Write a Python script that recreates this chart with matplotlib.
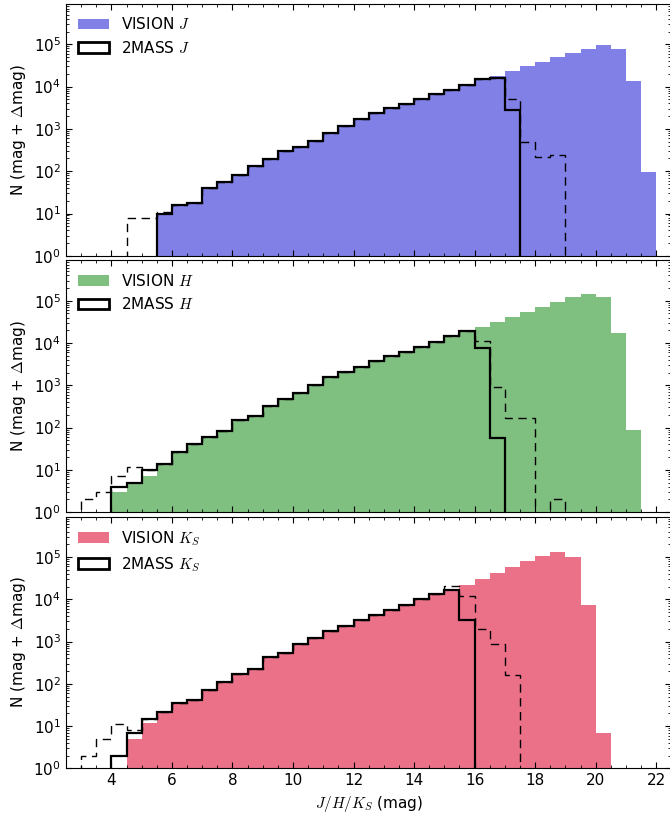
import numpy as np
import matplotlib
matplotlib.use('Agg')
import matplotlib.pyplot as plt
from matplotlib.patches import Patch

# ── данные: бины по 0.5 mag от 3.0 до 22.0 ─────────────────────────────────
edges = np.arange(3.0, 22.01, 0.5)

vision_j = [0, 0, 0, 0, 0, 9, 16, 18, 40, 57, 80, 135, 190, 295, 380, 530, 810,
            1180, 1730, 2350, 3160, 3900, 5000, 6770, 8500, 10700, 15100, 18000,
            24000, 31000, 39000, 49000, 62000, 76000, 98000, 79000, 13300, 94]
tmass_j = [0, 0, 0, 0, 0, 10, 16, 18, 40, 57, 80, 135, 190, 295, 380, 530, 810,
           1180, 1730, 2350, 3160, 3900, 5000, 6770, 8500, 10700, 15300, 15800,
           2830, 0, 0, 0, 0, 0, 0, 0, 0, 0]
tmass_j_all = [0, 0, 0, 8, 8, 11, 16, 18, 40, 57, 80, 135, 190, 295, 380, 530, 810,
               1180, 1730, 2350, 3160, 3900, 5000, 6770, 8500, 10700, 15300, 15800,
               5000, 490, 214, 245, 0, 0, 0, 0, 0, 0]

vision_h = [0, 0, 3, 5, 7, 14, 26, 42, 60, 85, 150, 183, 325, 466, 650, 1000, 1550,
            2100, 2770, 3700, 4800, 6200, 8150, 10500, 14700, 19000, 24500, 31700,
            41700, 53000, 70000, 91000, 120000, 145000, 120000, 17300, 90, 0]
tmass_h = [0, 0, 4, 5, 10, 14, 26, 42, 60, 85, 150, 183, 325, 466, 650, 1000, 1550,
           2100, 2770, 3700, 4800, 6200, 8150, 10500, 14700, 19000, 7450, 57,
           0, 0, 0, 0, 0, 0, 0, 0, 0, 0]
tmass_h_all = [2, 3, 7, 12, 10, 14, 26, 42, 60, 85, 150, 183, 325, 466, 650, 1000, 1550,
               2100, 2770, 3700, 4800, 6200, 8150, 10500, 14700, 19000, 11000, 920,
               170, 170, 0, 2, 0, 0, 0, 0, 0, 0]

vision_k = [0, 0, 0, 5, 12, 22, 35, 42, 73, 114, 173, 228, 440, 530, 880, 1230, 1770,
            2350, 3160, 4150, 5480, 7200, 10000, 13600, 16200, 22400, 30400, 41500,
            57000, 79000, 107000, 134000, 100000, 7450, 7, 0, 0, 0]
tmass_k = [0, 0, 2, 7, 15, 22, 35, 42, 73, 114, 173, 228, 440, 530, 880, 1230, 1770,
           2350, 3160, 4150, 5480, 7200, 10000, 13600, 16200, 3330, 0, 0,
           0, 0, 0, 0, 0, 0, 0, 0, 0, 0]
tmass_k_all = [2, 5, 11, 8, 15, 22, 35, 42, 73, 114, 173, 228, 440, 530, 880, 1230, 1770,
               2350, 3160, 4150, 5480, 7200, 10000, 13600, 21000, 12000, 2000, 880,
               164, 0, 0, 0, 0, 0, 0, 0, 0, 0]

bands = ['$J$', '$H$', '$K_S$']
colors = ['#8080e6', '#7fbf7f', '#eb7189']

# ── стиль ─────────────────────────────────────────────────────────────────
plt.rcParams['font.family'] = ['DejaVu Sans']
plt.rcParams['mathtext.fontset'] = 'cm'
plt.rcParams['font.size'] = 11

fig, axes = plt.subplots(3, 1, figsize=(6.7, 8.14), dpi=100, sharex=True)
fig.subplots_adjust(left=0.0985, right=1.002, top=0.9951, bottom=0.0559,
                    hspace=0.018)

panels = [(vision_j, tmass_j, tmass_j_all),
          (vision_h, tmass_h, tmass_h_all),
          (vision_k, tmass_k, tmass_k_all)]

for ax, (vis, tm, tm_all), band, col in zip(axes, panels, bands, colors):
    ax.set_yscale('log', nonpositive='clip')
    ax.stairs(vis, edges, fill=True, color=col, lw=0)
    ax.stairs(tm_all, edges, color='k', lw=1.0, linestyle=(0, (6, 4)))
    ax.stairs(tm, edges, color='k', lw=1.6)
    ax.set_xlim(2.5, 22.5)
    ax.set_ylim(1, 9e5)
    ax.set_xticks(np.arange(4, 23, 2))
    ax.set_xticks(np.arange(2.5, 22.6, 0.5), minor=True)
    ax.tick_params(which='both', direction='in', top=True, right=True)
    ax.tick_params(which='major', length=4)
    ax.tick_params(which='minor', length=2)
    ax.set_ylabel('N (mag + $\\Delta$mag)')
    handles = [Patch(facecolor=col, edgecolor='none'),
               Patch(facecolor='white', edgecolor='k', lw=2.0)]
    ax.legend(handles, ['VISION ' + band, '2MASS ' + band],
              loc='upper left', frameon=False, fontsize=11,
              handlelength=2.0, borderaxespad=0.4)

axes[-1].set_xlabel('$J/H/K_S$ (mag)')

plt.savefig('out.png', dpi=100)
